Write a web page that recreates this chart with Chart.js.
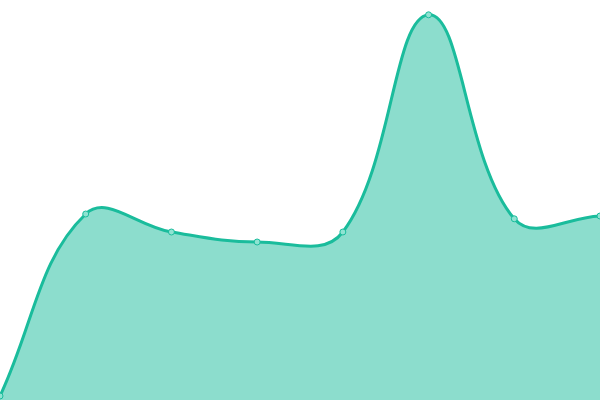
<!DOCTYPE html>
<html>
<head>
<meta charset="utf-8">
<script src="https://cdn.jsdelivr.net/npm/chart.js@4"></script>
<style>
  html, body { margin: 0; padding: 0; background: #fff; }
  #wrap { width: 600px; height: 400px; }
</style>
</head>
<body>
<div id="wrap"><canvas id="myChart"></canvas></div>
<script>
const labels = ['1', '2', '3', '4', '5', '6', '7', '8'];
const values = [1, 46.5, 42, 39.5, 42, 96.3, 45.3, 46];

const ctx = document.getElementById('myChart');
const myChart = new Chart(ctx, {
    type: 'line',
    data: {
        labels: labels,
        datasets: [{
            data: values,
            fill: true,
            backgroundColor: 'rgba(26,188,156,0.5)',
            borderColor: '#1abc9c',
            borderWidth: 3,
            tension: 0.4,
            pointRadius: 3,
            pointBackgroundColor: '#8fe3d2',
            pointBorderColor: '#1abc9c',
            pointBorderWidth: 1
        }]
    },
    options: {
        responsive: true,
        maintainAspectRatio: false,
        animation: false,
        layout: { padding: 0, autoPadding: false },
        plugins: { legend: { display: false }, tooltip: { enabled: false } },
        scales: {
            x: { display: false },
            y: { display: false, min: 0, max: 100 }
        }
    }
});
</script>
</body>
</html>
